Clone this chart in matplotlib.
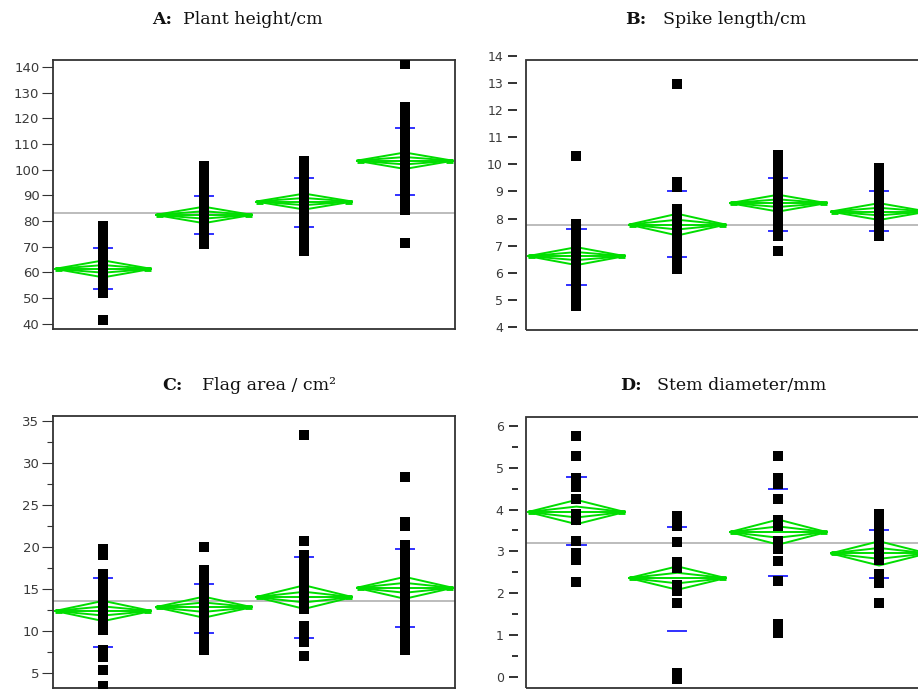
import matplotlib
matplotlib.use("Agg")
import matplotlib.pyplot as plt
from matplotlib.patches import Rectangle, Polygon
from matplotlib.ticker import MultipleLocator

# ---------------- data ----------------
group_x = [0.5, 1.5, 2.5, 3.5]

# Panel A: Plant height/cm
a_points = [
    [41.5, 52, 54, 56, 57, 59, 60, 61, 62, 63, 64, 65, 66, 68, 70, 72, 74, 76, 78],
    [71, 73, 75, 77, 79, 80, 81, 82, 83, 84, 85, 86, 88, 90, 92, 94, 96, 98, 100, 101.5],
    [68.5, 70, 72, 74, 76, 78, 80, 82, 84, 86, 87, 88, 89, 90, 92, 94, 96, 98, 100, 102, 103.5],
    [71.5, 84.5, 86, 88, 90, 92, 94, 96, 98, 100, 102, 104, 106, 108, 110, 112, 114, 116,
     118, 120, 122, 124.5, 141],
]
a_means = [61.4, 82.4, 87.6, 103.5]
a_ci = [3.3, 3.2, 3.1, 3.2]
a_sd_lo = [53.6, 74.9, 77.8, 90.0]
a_sd_hi = [69.5, 89.9, 96.7, 116.3]
a_grand = 83.0
a_ticks = [40, 50, 60, 70, 80, 90, 100, 110, 120, 130, 140]

# Panel B: Spike length/cm
b_points = [
    [4.8, 5.0, 5.3, 5.5, 5.8, 6.0, 6.2, 6.4, 6.6, 6.8, 7.0, 7.2, 7.4, 7.6, 7.8, 10.3],
    [6.15, 6.4, 6.6, 6.8, 7.0, 7.2, 7.4, 7.6, 7.8, 8.0, 8.2, 8.35, 9.15, 9.35, 12.95],
    [6.8, 7.35, 7.6, 7.8, 8.0, 8.2, 8.4, 8.6, 8.8, 9.0, 9.2, 9.4, 9.6, 9.8, 10.0, 10.2, 10.35],
    [7.35, 7.6, 7.8, 8.0, 8.2, 8.4, 8.6, 8.8, 9.0, 9.2, 9.4, 9.6, 9.85],
]
b_means = [6.62, 7.78, 8.57, 8.26]
b_ci = [0.33, 0.40, 0.31, 0.31]
b_sd_lo = [5.56, 6.60, 7.55, 7.55]
b_sd_hi = [7.62, 9.00, 9.49, 9.00]
b_grand = 7.78
b_ticks = [4, 5, 6, 7, 8, 9, 10, 11, 12, 13, 14]

# Panel C: Flag area / cm2
c_points = [
    [3.5, 5.4, 6.9, 7.8, 10.1, 11.0, 12.0, 13.0, 14.0, 15.0, 16.0, 16.8, 19.0, 19.8],
    [7.8, 8.6, 9.4, 10.2, 11.0, 11.8, 12.6, 13.4, 14.2, 15.0, 15.8, 16.6, 17.3, 20.0],
    [7.05, 8.7, 9.6, 10.6, 12.6, 13.4, 14.2, 15.0, 15.8, 16.6, 17.4, 18.2, 19.0, 20.7, 33.3],
    [7.8, 8.6, 9.4, 10.2, 11.0, 11.8, 12.6, 13.4, 14.2, 15.0, 15.8, 16.6, 17.4, 18.2, 19.0,
     19.6, 20.2, 22.5, 23.0, 28.3],
]
c_means = [12.4, 12.85, 14.05, 15.15]
c_ci = [1.2, 1.25, 1.4, 1.3]
c_sd_lo = [8.16, 9.8, 9.15, 10.5]
c_sd_hi = [16.3, 15.6, 18.85, 19.8]
c_grand = 13.55
c_ticks = [5, 10, 15, 20, 25, 30, 35]

# Panel D: Stem diameter/mm
d_points = [
    [2.26, 2.8, 2.95, 3.25, 3.75, 3.9, 4.25, 4.55, 4.75, 5.28, 5.77],
    [-0.05, 0.1, 1.76, 2.05, 2.2, 2.6, 2.75, 3.23, 3.6, 3.85],
    [1.05, 1.25, 2.28, 2.78, 3.05, 3.25, 3.6, 3.75, 4.25, 4.6, 4.75, 5.28],
    [1.76, 2.25, 2.45, 2.8, 2.95, 3.1, 3.25, 3.45, 3.6, 3.75, 3.9],
]
d_means = [3.94, 2.36, 3.46, 2.95]
d_ci = [0.29, 0.28, 0.30, 0.29]
d_sd_lo = [3.15, 1.10, 2.40, 2.36]
d_sd_hi = [4.77, 3.57, 4.49, 3.51]
d_grand = 3.19
d_ticks = [0, 1, 2, 3, 4, 5, 6]

# ---------------- style ----------------
W, H = 918, 690
GREEN = "#00dd00"
BLUE = "#3030ff"
FRAME = "#333333"
LABEL = "#3a3a3a"
HALF_W = 0.48

fig = plt.figure(figsize=(W / 100, H / 100), dpi=100)


def ax_at(x0, y_top, x1, y_bot):
    return fig.add_axes([x0 / W, 1 - y_bot / H, (x1 - x0) / W, (y_bot - y_top) / H])


def draw_groups(ax, points, means, ci, sd_lo, sd_hi, grand):
    ax.axhline(grand, color="#b0b0b0", lw=1.2, zorder=1)
    for x, pts, m, h, lo, hi in zip(group_x, points, means, ci, sd_lo, sd_hi):
        l, r = x - HALF_W, x + HALF_W
        outer = Polygon([[l, m], [x, m + h], [r, m], [x, m - h]], closed=True,
                        fill=False, ec=GREEN, lw=1.4, zorder=2)
        inner = Polygon([[l, m], [x, m + 0.45 * h], [r, m], [x, m - 0.45 * h]], closed=True,
                        fill=False, ec=GREEN, lw=1.4, zorder=2)
        ax.add_patch(outer)
        ax.add_patch(inner)
        ax.plot([l, r], [m, m], color=GREEN, lw=1.4, zorder=2)
        ax.plot([l, l + 0.07], [m, m], color=GREEN, lw=3.5, zorder=2, solid_capstyle="butt")
        ax.plot([r - 0.07, r], [m, m], color=GREEN, lw=3.5, zorder=2, solid_capstyle="butt")
        for v in (lo, hi):
            ax.plot([x - 0.09, x + 0.09], [v, v], color=BLUE, lw=1.4, zorder=3)
        ax.plot([x] * len(pts), pts, ls="none", marker="s", ms=7.2, mfc="black",
                mec="black", mew=0, zorder=4)
    ax.set_xlim(0, 4)
    ax.set_xticks([])


def style_attached(ax, ticks, minor=None):
    for s in ax.spines.values():
        s.set_color(FRAME)
        s.set_linewidth(1.3)
    ax.set_yticks(ticks)
    ax.tick_params(axis="y", which="major", direction="out", length=7.6, width=0.8,
                   color=FRAME, pad=2.2, labelsize=9.5, labelcolor=LABEL)
    if minor:
        ax.yaxis.set_minor_locator(MultipleLocator(minor))
        ax.tick_params(axis="y", which="minor", direction="out", length=4.3, width=0.8,
                       color=FRAME)


def style_detached(ax, ticks, minor=None, outward=6.3):
    for s in ax.spines.values():
        s.set_visible(False)
    ax.spines["left"].set_position(("outward", outward))
    ax.set_yticks(ticks)
    ax.tick_params(axis="y", which="major", direction="out", length=6.8, width=1.3,
                   color="#222222", pad=3.5, labelsize=9, labelcolor=LABEL)
    if minor:
        ax.yaxis.set_minor_locator(MultipleLocator(minor))
        ax.tick_params(axis="y", which="minor", direction="out", length=4.2, width=1.3,
                       color="#222222")


# ---------- Panel A ----------
axA = ax_at(53, 60, 455, 329)
draw_groups(axA, a_points, a_means, a_ci, a_sd_lo, a_sd_hi, a_grand)
axA.set_ylim(38.0, 142.7)
style_attached(axA, a_ticks)

# ---------- Panel B ----------
axB = ax_at(526, 54.3, 929.5, 330)
draw_groups(axB, b_points, b_means, b_ci, b_sd_lo, b_sd_hi, b_grand)
axB.set_ylim(3.9, 14.05)
style_detached(axB, b_ticks)
axB.add_patch(Rectangle((0, 3.9), 4, 13.84 - 3.9, fill=False, ec=FRAME, lw=1.3,
                        clip_on=False, zorder=5))

# ---------- Panel C ----------
axC = ax_at(53, 416, 455, 688)
draw_groups(axC, c_points, c_means, c_ci, c_sd_lo, c_sd_hi, c_grand)
axC.set_ylim(3.25, 35.56)
style_attached(axC, c_ticks, minor=2.5)

# ---------- Panel D ----------
axD = ax_at(526, 416.7, 929.5, 688)
draw_groups(axD, d_points, d_means, d_ci, d_sd_lo, d_sd_hi, d_grand)
axD.set_ylim(-0.27, 6.22)
style_detached(axD, d_ticks, minor=0.5, outward=5.8)
axD.add_patch(Rectangle((0, 0), 1, 1, transform=axD.transAxes, fill=False, ec=FRAME,
                        lw=1.3, clip_on=False, zorder=5))

# ---------- titles ----------
SERIF = "DejaVu Serif"
TS = 12.5


def title(xb, xt, y, letter, text):
    fig.text(xb / W, 1 - y / H, letter, ha="left", va="center", fontsize=TS,
             fontweight="bold", family=SERIF, color="#111111")
    fig.text(xt / W, 1 - y / H, text, ha="left", va="center", fontsize=TS,
             family=SERIF, color="#111111")


title(152, 183, 19, "A:", "Plant height/cm")
title(625, 663, 19, "B:", "Spike length/cm")
title(162, 202, 386, "C:", "Flag area / cm²")
title(620, 657, 386, "D:", "Stem diameter/mm")

fig.savefig("out.png", dpi=100)
